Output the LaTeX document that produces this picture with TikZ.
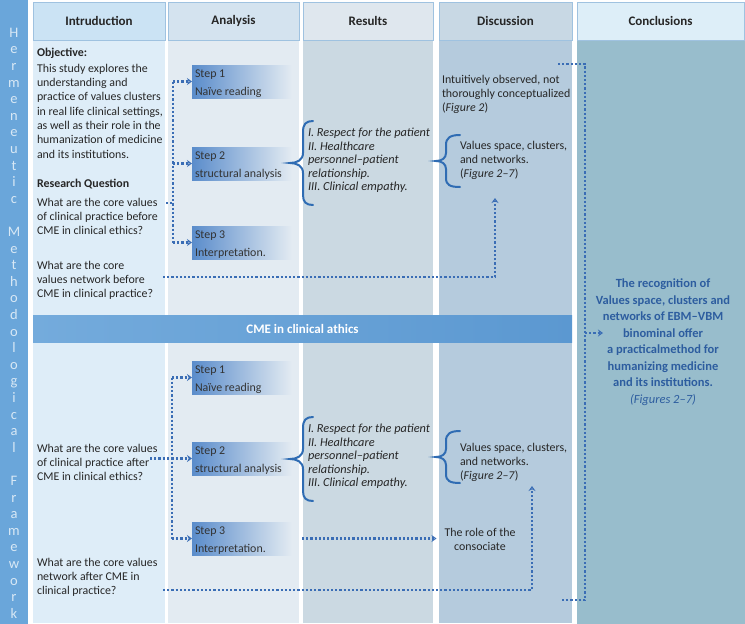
\documentclass[tikz,border=0pt]{standalone}
\usepackage{fontspec}
\setmainfont{Carlito}
\usetikzlibrary{arrows.meta}
\definecolor{barc}{HTML}{6AA6DA}
\definecolor{barletter}{HTML}{D8E8F5}
\definecolor{hdrline}{HTML}{9FC2E0}
\definecolor{hA}{HTML}{CBE3F4}
\definecolor{bA}{HTML}{DEEDF8}
\definecolor{hB}{HTML}{D4E3EF}
\definecolor{bB}{HTML}{E3EBF2}
\definecolor{hC}{HTML}{DFE7EE}
\definecolor{bC}{HTML}{CBD9E2}
\definecolor{hD}{HTML}{C8D8E4}
\definecolor{bD}{HTML}{B5CBDD}
\definecolor{hE}{HTML}{DDEEF8}
\definecolor{bE}{HTML}{98BDCC}
\definecolor{stepc}{HTML}{5A8CCB}
\definecolor{dotc}{HTML}{3A6DB5}
\definecolor{bracec}{HTML}{2F6CB3}
\definecolor{cmeL}{HTML}{74ABDC}
\definecolor{cmeR}{HTML}{5B98D1}
\definecolor{conc}{HTML}{2D5D9F}
\definecolor{txtc}{HTML}{262626}
\definecolor{steptxtc}{HTML}{333333}
\begin{document}
\begin{tikzpicture}[x=1pt,y=-1pt,
  every node/.style={inner sep=0pt, outer sep=0pt, text=txtc},
  hdr/.style={draw=hdrline, line width=0.6pt, font=\fontsize{13}{15}\selectfont\bfseries, minimum height=38pt, anchor=north west},
  colbody/.style={minimum height=582pt, anchor=north west},
  body/.style={font=\fontsize{11.9}{14.3}\selectfont, align=left, anchor=north west},
  bodyb/.style={font=\fontsize{11.9}{14.3}\selectfont\bfseries, align=left, anchor=north west},
  resl/.style={font=\fontsize{12.3}{13.6}\selectfont\itshape, align=left, anchor=north west},
  stepbox/.style={left color=stepc, right color=bB, minimum width=100pt, minimum height=33pt, anchor=north west},
  steptxt/.style={font=\fontsize{11.9}{17.5}\selectfont, align=left, anchor=north west, text=steptxtc},
  dotline/.style={draw=dotc, line width=2.2pt, dash pattern=on 2.2pt off 2pt},
  dotarrow/.style={dotline, -{Stealth[open, length=5pt, width=7pt, line width=1pt]}},
  bracestyle/.style={draw=bracec, line width=2pt, line cap=round}
]
\useasboundingbox (0,0) rectangle (745,624);
\fill[white] (0,0) rectangle (745,624);

% left vertical bar
\node[fill=barc, minimum width=28pt, minimum height=624pt, anchor=north west] (bar) at (0,0) {};
\node[font=\fontsize{14.5}{16.6}\selectfont, text=barletter, align=center, anchor=north] (barlbl) at (14,28)
 {H\\e\\r\\m\\e\\n\\e\\u\\t\\i\\c\\~\\M\\e\\t\\h\\o\\d\\o\\l\\o\\g\\i\\c\\a\\l\\~\\F\\r\\a\\m\\e\\w\\o\\r\\k};

% column bodies
\node[colbody, fill=bA, minimum width=132pt] (bintro) at (33,41) {};
\node[colbody, fill=bB, minimum width=131pt] (bana) at (168,41) {};
\node[colbody, fill=bC, minimum width=130pt] (bres) at (303,41) {};
\node[colbody, fill=bD, minimum width=133pt] (bdis) at (439,41) {};
\node[fill=bE, minimum width=168pt, minimum height=583pt, anchor=north west] (bcon) at (577,41) {};

% headers
\node[hdr, fill=hA, minimum width=132pt] (hintro) at (33,2) {Intruduction};
\node[hdr, fill=hB, minimum width=131pt] (hana) at (168,2) {Analysis};
\node[hdr, fill=hC, minimum width=130pt] (hres) at (303,2) {Results};
\node[hdr, fill=hD, minimum width=133pt] (hdis) at (439,2) {Discussion};
\node[hdr, fill=hE, minimum width=167pt] (hcon) at (577,2) {Conclusions};

% CME band
\node[left color=cmeL, right color=cmeR, minimum width=539pt, minimum height=27pt, anchor=north west,
      font=\fontsize{13}{15}\selectfont\bfseries, text=white] (cme) at (33,315) {CME in clinical athics};

% introduction texts
\node[bodyb] (obj) at (37,48) {Objective:};
\node[body] (objtxt) at (37,64) {This study explores the\\understanding and\\practice of values clusters\\in real life clinical settings,\\as well as their role in the\\humanization of medicine\\and its institutions.};
\node[bodyb] (rq) at (37,179) {Research Question};
\node[body] (q1) at (37,198) {What are the core values\\of clinical practice before\\CME in clinical ethics?};
\node[body] (q2) at (37,261) {What are the core\\values network before\\CME in clinical practice?};
\node[body] (q3) at (37,444) {What are the core values\\of clinical practice after\\CME in clinical ethics?};
\node[body] (q4) at (37,558) {What are the core values\\network after CME in\\clinical practice?};

% step boxes
\node[stepbox] (s1) at (192,65) {};
\node[stepbox] (s2) at (192,147) {};
\node[stepbox] (s3) at (192,226) {};
\node[stepbox] (s4) at (192,361) {};
\node[stepbox] (s5) at (192,442) {};
\node[stepbox] (s6) at (192,522) {};
\node[steptxt] (t1) at (195,70) {Step 1\\Naïve reading};
\node[steptxt] (t2) at (195,152) {Step 2\\structural analysis};
\node[steptxt] (t3) at (195,231) {Step 3\\Interpretation.};
\node[steptxt] (t4) at (195,366) {Step 1\\Naïve reading};
\node[steptxt] (t5) at (195,447) {Step 2\\structural analysis};
\node[steptxt] (t6) at (195,527) {Step 3\\Interpretation.};

% results
\node[resl] (r1) at (308,128) {I. Respect for the patient\\II. Healthcare\\personnel–patient\\relationship.\\III. Clinical empathy.};
\node[resl] (r2) at (308,424) {I. Respect for the patient\\II. Healthcare\\personnel–patient\\relationship.\\III. Clinical empathy.};

% discussion
\node[body, font=\fontsize{11.9}{14}\selectfont] (d0) at (442,75) {Intuitively observed, not\\thoroughly conceptualized\\(\textit{Figure 2})};
\node[body, font=\fontsize{11.9}{14}\selectfont] (d1) at (460,141) {Values space, clusters,\\and networks.\\(\textit{Figure 2–7})};
\node[body, font=\fontsize{11.9}{14}\selectfont] (d2) at (460,443) {Values space, clusters,\\and networks.\\(\textit{Figure 2–7})};
\node[font=\fontsize{11.9}{14}\selectfont, align=center, anchor=north] (role) at (480,528) {The role of the\\consociate};

% conclusions
\node[font=\fontsize{12.5}{16.5}\selectfont\bfseries, text=conc, align=center, anchor=north] (concl) at (663,279)
 {The recognition of\\Values space, clusters and\\networks of EBM–VBM\\binominal offer\\a practicalmethod for\\humanizing medicine\\and its institutions.\\{\mdseries\itshape (Figures 2–7)}};

% braces
\begin{scope}
\draw[bracestyle] (313,121) .. controls (306,121) and (303,124) .. (303,132) -- (303,153) .. controls (303,160) and (297,163) .. (290,163) .. controls (297,163) and (303,166) .. (303,173) -- (303,195) .. controls (303,202) and (306,205) .. (313,205);
\draw[bracestyle] (460,135) .. controls (450,135) and (446,138) .. (446,145) -- (446,153) .. controls (446,158) and (442,161) .. (436,161) .. controls (442,161) and (446,164) .. (446,169) -- (446,178) .. controls (446,185) and (450,187) .. (460,187);
\end{scope}
\begin{scope}[shift={(0,296)}]
\draw[bracestyle] (313,121) .. controls (306,121) and (303,124) .. (303,132) -- (303,153) .. controls (303,160) and (297,163) .. (290,163) .. controls (297,163) and (303,166) .. (303,173) -- (303,195) .. controls (303,202) and (306,205) .. (313,205);
\draw[bracestyle] (460,135) .. controls (450,135) and (446,138) .. (446,145) -- (446,153) .. controls (446,158) and (442,161) .. (436,161) .. controls (442,161) and (446,164) .. (446,169) -- (446,178) .. controls (446,185) and (450,187) .. (460,187);
\end{scope}

% upper connectors
\coordinate (va) at (173,0);
\draw[dotline] (va |- s1.west) -- (va |- s3.west);
\draw[dotarrow] (va |- s1.west) -- (s1.west);
\draw[dotarrow] (va |- s2.west) -- (s2.west);
\draw[dotarrow] (va |- s3.west) -- (s3.west);
\coordinate (q1end) at (166,203);
\draw[dotline] (q1end) -- (va |- q1end);
\coordinate (q2end) at (163,277);
\coordinate (d1tip) at (495,198);
\draw[dotarrow] (q2end) -| (d1tip);

% lower connectors
\coordinate (vb) at (172,0);
\coordinate (q3end) at (150,0);
\draw[dotline] (vb |- s4.west) -- (vb |- s6.west);
\draw[dotarrow] (vb |- s4.west) -- (s4.west);
\draw[dotarrow] (vb |- s5.west) -- (s5.west);
\draw[dotarrow] (vb |- s6.west) -- (s6.west);
\draw[dotline] (q3end |- s5.west) -- (vb |- s5.west);
\draw[dotarrow] ([xshift=10pt]s6.east) -- ([xshift=-8pt]role.west |- s6.east);
\coordinate (q4end) at (163,590);
\coordinate (d2tip) at (532,486);
\draw[dotarrow] (q4end) -| (d2tip);

% conclusion connector
\coordinate (ctop) at (558,64);
\coordinate (cbot) at (562,600);
\coordinate (cx) at (585,0);
\coordinate (carrow) at (603,333);
\draw[dotline] (ctop) -- (cx |- ctop) -- (cx |- cbot) -- (cbot);
\draw[dotarrow] (cx |- carrow) -- (carrow);
\end{tikzpicture}
\end{document}
